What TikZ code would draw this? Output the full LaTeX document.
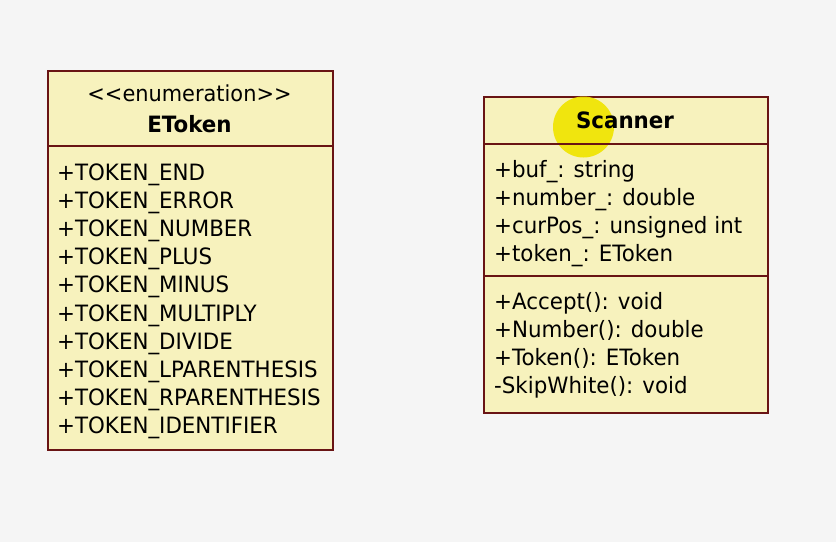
\documentclass[tikz,border=0pt]{standalone}
\usepackage{fontspec}
\newfontfamily\umlfont{DejaVu Sans}[FakeStretch=0.95]
\definecolor{classfill}{RGB}{247,242,189}
\definecolor{classline}{RGB}{105,20,20}
\definecolor{canvas}{RGB}{245,245,245}
\definecolor{pointer}{RGB}{240,228,0}
\begin{document}
\begin{tikzpicture}[x=1pt,y=-1pt,
  classbox/.style={draw=classline, fill=classfill, line width=1.7pt, inner sep=0pt, anchor=north west},
  divider/.style={draw=classline, line width=1.5pt},
  member/.style={anchor=base west, inner sep=0pt, font=\umlfont\fontsize{22.5}{25}\selectfont},
  classname/.style={anchor=base, inner sep=0pt, font=\umlfont\fontsize{22.5}{25}\selectfont\bfseries},
  stereo/.style={anchor=base, inner sep=0pt, font=\umlfont\fontsize{22}{25}\selectfont}]
% canvas
\fill[canvas] (0,0) rectangle (836,542);
\useasboundingbox (0,0) rectangle (836,542);

% class boxes
\node[classbox, minimum width=285pt, minimum height=379pt] (etoken) at (47,70) {};
\node[classbox, minimum width=284pt, minimum height=316pt] (scanner) at (483,96) {};

% pointer highlight
\fill[pointer, opacity=0.92] (583.5,127) circle (30.5);

% compartment dividers
\coordinate (ed) at (0,146);
\coordinate (sd1) at (0,144);
\coordinate (sd2) at (0,276);
\draw[divider] (etoken.west |- ed) -- (etoken.east |- ed);
\draw[divider] (scanner.west |- sd1) -- (scanner.east |- sd1);
\draw[divider] (scanner.west |- sd2) -- (scanner.east |- sd2);

% ETokens enumeration
\node[stereo] (estereo) at (189.5,101) {<<enumeration>>};
\node[classname] (ename) at (189.5,132) {EToken};
\foreach \t [count=\i] in {+TOKEN\_END, +TOKEN\_ERROR, +TOKEN\_NUMBER, +TOKEN\_PLUS,
  +TOKEN\_MINUS, +TOKEN\_MULTIPLY, +TOKEN\_DIVIDE, +TOKEN\_LPARENTHESIS,
  +TOKEN\_RPARENTHESIS, +TOKEN\_IDENTIFIER}
  \node[member] (e\i) at (57,{151.8+28.2*\i}) {\t};

% Scanner class
\node[classname] (sname) at (625,128) {Scanner};
\foreach \t [count=\i] in {+buf\_: string, +number\_: double,
  +curPos\_: unsigned int, +token\_: EToken}
  \node[member] (a\i) at (494,{149+28*\i}) {\t};
\foreach \t [count=\i] in {+Accept(): void, +Number(): double,
  +Token(): EToken, -SkipWhite(): void}
  \node[member] (m\i) at (494,{280.7+28.3*\i}) {\t};
\end{tikzpicture}
\end{document}
